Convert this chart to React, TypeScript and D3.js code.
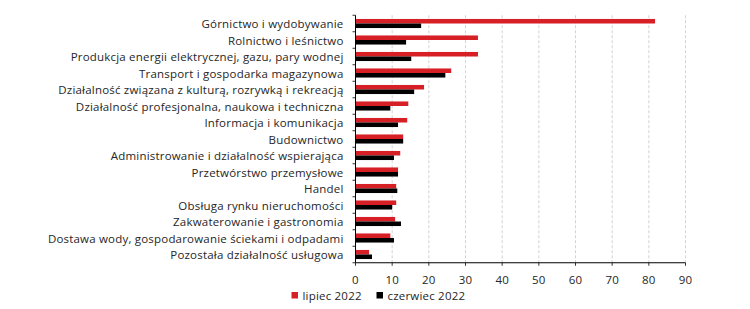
import React from 'react';
import * as d3 from 'd3';

const categories = [
  'Górnictwo i wydobywanie',
  'Rolnictwo i leśnictwo',
  'Produkcja energii elektrycznej, gazu, pary wodnej',
  'Transport i gospodarka magazynowa',
  'Działalność związana z kulturą, rozrywką i rekreacją',
  'Działalność profesjonalna, naukowa i techniczna',
  'Informacja i komunikacja',
  'Budownictwo',
  'Administrowanie i działalność wspierająca',
  'Przetwórstwo przemysłowe',
  'Handel',
  'Obsługa rynku nieruchomości',
  'Zakwaterowanie i gastronomia',
  'Dostawa wody, gospodarowanie ściekami i odpadami',
  'Pozostała działalność usługowa',
];

const lipiec = [81.7, 33.4, 33.4, 26.1, 18.7, 14.4, 14.1, 13.0, 12.2, 11.6, 11.1, 11.1, 10.8, 9.5, 3.7];
const czerwiec = [17.9, 13.8, 15.2, 24.5, 16.0, 9.5, 11.6, 13.0, 10.5, 11.6, 11.4, 10.0, 12.4, 10.5, 4.5];

const xTicks = [0, 10, 20, 30, 40, 50, 60, 70, 80, 90];
const seriesNames = ['lipiec 2022', 'czerwiec 2022'];
const colors = ['#d71f26', '#000000'];

const width = 750;
const height = 309;
const margin = { left: 355.5, right: 64.5, top: 15.25, bottom: 46.25 };
const font = '"Open Sans", "Liberation Sans", Arial, sans-serif';
const textColor = '#262626';

export default function App() {
  const x = d3.scaleLinear().domain([0, 90]).range([margin.left, width - margin.right]);
  const y = d3
    .scaleBand<string>()
    .domain(categories)
    .range([margin.top, height - margin.bottom])
    .paddingInner(0.45)
    .paddingOuter(0.225);
  const inner = d3
    .scaleBand<string>()
    .domain(seriesNames)
    .range([0, y.bandwidth()]);

  const plotBottom = height - margin.bottom;
  const step = y.step();
  const series = [lipiec, czerwiec];

  return (
    <svg
      width={width}
      height={height}
      style={{ position: 'absolute', left: 0, top: 0, background: '#fff' }}
      fontFamily={font}
    >
      {/* gridlines */}
      {xTicks.slice(1).map((t) => (
        <line
          key={'g' + t}
          x1={x(t)}
          x2={x(t)}
          y1={margin.top}
          y2={plotBottom}
          stroke="#c8c8c8"
          strokeDasharray="3,2"
          strokeWidth={0.8}
        />
      ))}

      {/* bars */}
      {series.map((vals, si) =>
        vals.map((v, i) => (
          <rect
            key={si + '-' + i}
            x={x(0)}
            y={(y(categories[i]) ?? 0) + (inner(seriesNames[si]) ?? 0)}
            width={x(v) - x(0)}
            height={inner.bandwidth()}
            fill={colors[si]}
          />
        ))
      )}

      {/* y axis */}
      <line x1={x(0)} x2={x(0)} y1={margin.top} y2={plotBottom} stroke="#000" strokeWidth={1} />
      {d3.range(categories.length + 1).map((i) => (
        <line
          key={'yt' + i}
          x1={x(0) - 3}
          x2={x(0)}
          y1={margin.top + i * step}
          y2={margin.top + i * step}
          stroke="#000"
          strokeWidth={0.8}
        />
      ))}
      {categories.map((c) => (
        <text
          key={c}
          x={x(0) - 12}
          y={(y(c) ?? 0) + y.bandwidth() / 2}
          textAnchor="end"
          dominantBaseline="central"
          fontSize={11.5}
          letterSpacing={0.2}
          fill={textColor}
        >
          {c}
        </text>
      ))}

      {/* x axis */}
      <line x1={x(0)} x2={x(90)} y1={plotBottom} y2={plotBottom} stroke="#000" strokeWidth={1} />
      {xTicks.map((t) => (
        <g key={'xt' + t}>
          <line x1={x(t)} x2={x(t)} y1={plotBottom} y2={plotBottom + 3} stroke="#000" strokeWidth={0.8} />
          <text
            x={x(t)}
            y={plotBottom + 17}
            textAnchor="middle"
            dominantBaseline="central"
            fontSize={11.5}
            letterSpacing={0.2}
            fill={textColor}
          >
            {t}
          </text>
        </g>
      ))}

      {/* legend */}
      {seriesNames.map((s, i) => {
        const lx = [291.5, 376.5][i];
        return (
          <g key={s}>
            <rect x={lx} y={292} width={6.5} height={6.5} fill={colors[i]} />
            <text
              x={lx + 11}
              y={295.5}
              dominantBaseline="central"
              fontSize={11.5}
              letterSpacing={0.2}
              fill={textColor}
            >
              {s}
            </text>
          </g>
        );
      })}
    </svg>
  );
}
